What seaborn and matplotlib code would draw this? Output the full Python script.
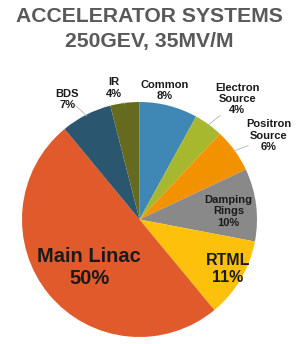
import numpy as np
import matplotlib
matplotlib.use("Agg")
import matplotlib.pyplot as plt
import seaborn as sns

sns.set_theme(style="white")
plt.rcParams["font.family"] = ["Liberation Sans", "DejaVu Sans"]

title_lines = ["ACCELERATOR SYSTEMS", "250GEV, 35MV/M"]
labels = ["Common", "Electron\nSource", "Positron\nSource", "Damping\nRings",
          "RTML", "Main Linac", "BDS", "IR"]
shares = [8, 4, 6, 10, 11, 50, 7, 4]
colors = ["#3f88b5", "#a8b82e", "#f39200", "#898989",
          "#fdc10c", "#e05a2b", "#2b566f", "#656a1e"]

# label placement (radius factor, angle nudge in degrees, font size, leader line)
label_r = [1.12, 1.32, 1.31, 0.76, 0.86, 0.59, 1.19, 1.14]
label_nudge = [3.5, -3, -3, -2, 1.5, 4, 4, 4]
label_size = [8, 8, 8, 8, 11.5, 14.5, 8, 8]
leader = [False, True, True, False, False, False, True, True]

fig = plt.figure(figsize=(2.99, 3.44), dpi=100)
fig.patch.set_facecolor("white")
for i, line in enumerate(title_lines):
    fig.text(0.5, 1 - (17 + 25 * i) / 344, line, ha="center", va="center",
             fontsize=15.2, fontweight="bold", color="#595959")

ax = fig.add_axes([22 / 299, 7 / 344, 235 / 299, 235 / 344])
wedges, _ = ax.pie(shares, colors=colors, startangle=90, counterclock=False,
                   radius=1.0, wedgeprops=dict(linewidth=0))
ax.set_xlim(-1, 1)
ax.set_ylim(-1, 1)
ax.set_aspect("equal")
ax.axis("off")

for w, lab, val, r, nd, fs, ld in zip(wedges, labels, shares, label_r, label_nudge,
                                       label_size, leader):
    mid = np.deg2rad((w.theta1 + w.theta2) / 2)
    ang = mid + np.deg2rad(nd)
    tx, ty = r * np.cos(ang), r * np.sin(ang)
    ax.text(tx, ty, f"{lab}\n{val}%", ha="center", va="center", fontsize=fs,
            fontweight="bold", color="#1a1a1a", linespacing=1.18)
    if ld:
        ex, ey = 0.99 * np.cos(mid), 0.99 * np.sin(mid)
        lx, ly = 1.12 * np.cos(mid + np.deg2rad(nd * 0.6)), 1.12 * np.sin(mid + np.deg2rad(nd * 0.6))
        ax.plot([ex, lx], [ey, ly], color="#b5b5b5", lw=0.6)

fig.savefig("out.png", dpi=100, facecolor="white")
